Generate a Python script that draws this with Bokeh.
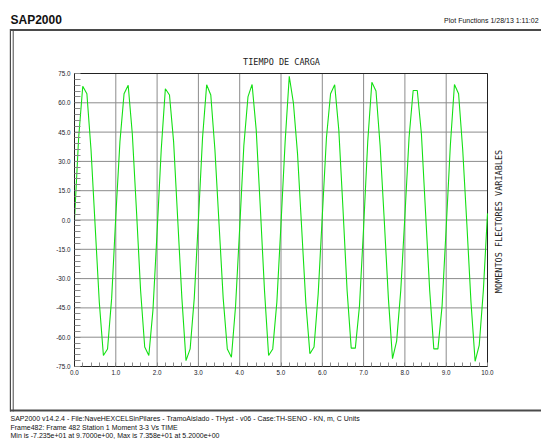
from bokeh.plotting import figure
from bokeh.models import FixedTicker, PrintfTickFormatter, Label, PolyAnnotation, Range1d
from bokeh.embed import file_html
from bokeh.resources import INLINE
import math

# ---- data ----
DT = 0.1
moment = [
    0, 42, 68.5, 64.6, 36, -3, -42, -69.4, -66, -40,
    2, 40, 64.6, 69, 44, 5, -36, -65, -69.4, -46,
    -6, 36, 67.2, 64, 40, 0, -40, -72, -66, -40,
    0, 42, 69.2, 64, 36, -2, -40, -66, -70.3, -44,
    -4, 38, 63, 69.4, 46, 6, -36, -69.4, -66, -42,
    -2, 40, 73.58, 60, 34, -4, -42, -68.5, -65, -38,
    2, 42, 64.6, 69.2, 46, 6, -36, -65.6, -65.6, -44,
    -4, 40, 70.5, 66, 38, 0, -40, -71, -62, -36,
    2, 42, 66.3, 66.3, 44, 4, -36, -66, -66, -44,
    -4, 38, 69.4, 64.6, 36, -2, -42, -72.35, -64, -36,
    3.4,
]
time = [round(i * DT, 1) for i in range(len(moment))]

y_ticks = [-75, -60, -45, -30, -15, 0, 15, 30, 45, 60, 75]
y_minor = [v for v in range(-75, 76, 3)]
x_ticks = [0, 1, 2, 3, 4, 5, 6, 7, 8, 9, 10]
x_minor = [round(i * 0.2, 1) for i in range(51)]

title_txt = "TIEMPO DE CARGA"
ylab_txt = "MOMENTOS FLECTORES VARIABLES"
header_left = "SAP2000"
header_right = "Plot Functions  1/28/13 1:11:02"
foot1 = "SAP2000 v14.2.4 - File:NaveHEXCELSinPilares - TramoAislado - THyst - v06 - Case:TH-SENO - KN, m, C Units"
foot2 = "Frame482: Frame 482  Station 1 Moment 3-3  Vs  TIME"
foot3 = "Min is -7.235e+01 at 9.7000e+00, Max is 7.358e+01 at 5.2000e+00"

# ---- layout (pixels) ----
W, H = 541, 439
FL, FR, FT, FB = 74, 487, 73, 366   # data area inside the canvas
xmin, xmax = x_ticks[0], x_ticks[-1]
ymin, ymax = y_ticks[0], y_ticks[-1]
kx = (FR - FL) / (xmax - xmin)
ky = (FB - FT) / (ymax - ymin)
x_range = Range1d(xmin - FL / kx, xmax + (W - FR) / kx)
y_range = Range1d(ymin - (H - FB) / ky, ymax + FT / ky)

p = figure(width=W, height=H, x_range=x_range, y_range=y_range,
           output_backend="svg", toolbar_location=None, title=None,
           min_border=0, min_border_left=0, min_border_right=0,
           min_border_top=0, min_border_bottom=0)
p.background_fill_color = "white"
p.border_fill_color = "white"
p.outline_line_color = None
p.xgrid.visible = False
p.ygrid.visible = False

# grid lines at the major ticks
p.segment(x0=x_ticks, y0=[ymin] * len(x_ticks), x1=x_ticks, y1=[ymax] * len(x_ticks),
          line_color="#8c8c8c", line_width=1)
p.segment(x0=[xmin] * len(y_ticks), y0=y_ticks, x1=[xmax] * len(y_ticks), y1=y_ticks,
          line_color="#8c8c8c", line_width=1)

yax = p.yaxis[0]
xax = p.xaxis[0]
yax.fixed_location = xmin
yax.bounds = (ymin, ymax)
xax.fixed_location = ymin
xax.bounds = (xmin, xmax)
for ax, maj, mn, mlen in ((yax, y_ticks, y_minor, 6), (xax, x_ticks, x_minor, 4)):
    ax.ticker = FixedTicker(ticks=maj, minor_ticks=mn)
    ax.formatter = PrintfTickFormatter(format="%.1f")
    ax.major_tick_in = 0
    ax.major_tick_out = 0
    ax.minor_tick_in = mlen
    ax.minor_tick_out = 0
    ax.minor_tick_line_color = "#8a8a8a"
    ax.axis_line_color = "#222222"
    ax.major_label_text_font = "Liberation Sans"
    ax.major_label_text_font_size = "6.3px"
    ax.major_label_text_color = "#1a1a2a"
yax.major_label_standoff = 4
xax.major_label_standoff = 3

# data area border
p.quad(left=[xmin], right=[xmax], bottom=[ymin], top=[ymax],
       fill_alpha=0, line_color="#222222", line_width=1)

p.line(time, moment, line_color="#14e014", line_width=1.1)


# ---- texts / outer frame (screen units: frame == whole canvas) ----
def lab(text, cx, cy, size, font="Liberation Sans", style="normal", align="left", angle=0.0, color="#111111"):
    p.add_layout(Label(x=cx, y=H - cy, x_units="screen", y_units="screen", text=text,
                       text_font=font, text_font_size=size, text_font_style=style,
                       text_align=align, text_baseline="middle", angle=angle,
                       text_color=color))


lab(header_left, 10, 19, "12px", style="bold")
lab(header_right, 540, 20, "7px", align="right")
lab(title_txt, 281, 61, "8.5px", font="DejaVu Sans Mono", align="center", color="#222222")
lab(ylab_txt, 498.5, 221, "8.5px", font="DejaVu Sans Mono", align="center", angle=math.pi / 2, color="#222222")
lab(foot1, 10, 417.5, "7px")
lab(foot2, 10, 426.5, "7px")
lab(foot3, 10, 435, "7px")


def rect(x0, x1, y0, y1, color):
    p.add_layout(PolyAnnotation(xs=[x0, x1, x1, x0], ys=[H - y0, H - y0, H - y1, H - y1],
                                xs_units="screen", ys_units="screen",
                                fill_color=color, fill_alpha=1.0, line_alpha=0))


rect(9.5, 560, 28.5, 30.5, "#4a4a4a")
rect(9.5, 560, 409, 411, "#4a4a4a")
rect(9.3, 10.5, 28.5, 411, "#4a4a4a")
rect(12.2, 13.2, 28.5, 411, "#4a4a4a")

open("out.html", "w").write(file_html(p, INLINE))
